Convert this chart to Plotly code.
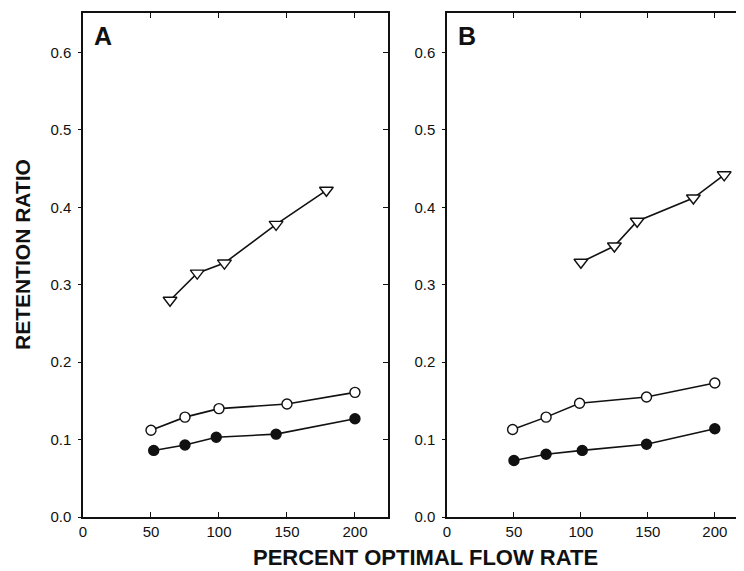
import plotly.graph_objects as go

# Panel A data
flow_A_tri = [64, 84, 104, 142, 179]
ret_A_tri = [0.280, 0.315, 0.328, 0.378, 0.422]
flow_A_open = [50, 75, 100, 150, 200]
ret_A_open = [0.112, 0.129, 0.140, 0.146, 0.161]
flow_A_fill = [52, 75, 98, 142, 200]
ret_A_fill = [0.086, 0.093, 0.103, 0.107, 0.127]

# Panel B data
flow_B_tri = [100, 125, 142, 184, 207]
ret_B_tri = [0.329, 0.350, 0.382, 0.412, 0.442]
flow_B_open = [49, 74, 99, 149, 200]
ret_B_open = [0.113, 0.129, 0.147, 0.155, 0.173]
flow_B_fill = [50, 74, 101, 149, 200]
ret_B_fill = [0.073, 0.081, 0.086, 0.094, 0.114]

x_ticks = [0, 50, 100, 150, 200]
y_ticks = [0.0, 0.1, 0.2, 0.3, 0.4, 0.5, 0.6]
y_tick_text = ["0.0", "0.1", "0.2", "0.3", "0.4", "0.5", "0.6"]
panel_labels = ["A", "B"]
x_title = "PERCENT OPTIMAL FLOW RATE"
y_title = "RETENTION RATIO"

# the page body has an 8px margin, so the figure is drawn 8px in from the corner
OFF = 8
W, H = 744 - OFF, 571 - OFF
INK = "#111111"
FONT = "Liberation Sans, Arial, sans-serif"

def px_x(p):
    return (p - OFF) / W

def px_y(p):
    return 1 - (p - OFF) / H

fig = go.Figure()

def add_series(xs, ys, xa, ya, symbol, fill):
    fig.add_trace(go.Scatter(
        x=xs, y=ys, xaxis=xa, yaxis=ya, mode="lines+markers",
        line=dict(color=INK, width=1.6),
        marker=dict(symbol=symbol, size=12 if "triangle" in symbol else 10,
                    color=INK if fill else "white",
                    line=dict(color=INK, width=1.4)),
        showlegend=False, hoverinfo="skip"))

add_series(flow_A_tri, ret_A_tri, "x", "y", "triangle-down", False)
add_series(flow_A_open, ret_A_open, "x", "y", "circle", False)
add_series(flow_A_fill, ret_A_fill, "x", "y", "circle", True)
add_series(flow_B_tri, ret_B_tri, "x2", "y2", "triangle-down", False)
add_series(flow_B_open, ret_B_open, "x2", "y2", "circle", False)
add_series(flow_B_fill, ret_B_fill, "x2", "y2", "circle", True)

# invisible traces for right-side tick axes
fig.add_trace(go.Scatter(x=[None], y=[None], xaxis="x", yaxis="y3", showlegend=False))
fig.add_trace(go.Scatter(x=[None], y=[None], xaxis="x2", yaxis="y4", showlegend=False))

y_dom = [px_y(517), px_y(13)]
xA_dom = [px_x(83), px_x(388)]
xB_dom = [px_x(447), 1.0]
y_range = [0, 0.651]

common_x = dict(
    showgrid=False, zeroline=False, showline=True, linecolor=INK, linewidth=1.5,
    mirror="ticks", ticks="inside", ticklen=5, tickwidth=1, tickcolor=INK,
    tickvals=x_ticks, ticktext=[str(v) for v in x_ticks], automargin=False,
    tickfont=dict(family=FONT, size=15, color=INK))
common_y = dict(
    showgrid=False, zeroline=False, showline=True, linecolor=INK, linewidth=1.5,
    mirror=True, ticks="outside", ticklen=3, tickwidth=1, tickcolor=INK,
    tickvals=y_ticks, ticktext=y_tick_text, range=y_range, domain=y_dom,
    automargin=False,
    tickfont=dict(family=FONT, size=15, color=INK), ticklabelstandoff=4)
right_y = dict(
    showgrid=False, zeroline=False, showline=False, ticks="inside", ticklen=5,
    tickwidth=1, tickcolor=INK, tickvals=y_ticks[1:], showticklabels=False,
    range=y_range, side="right", automargin=False)

fig.update_layout(
    width=W, height=H, margin=dict(l=0, r=0, t=0, b=0, autoexpand=False),
    paper_bgcolor="white", plot_bgcolor="white",
    xaxis=dict(common_x, domain=xA_dom, range=[0, 224.3], anchor="y"),
    yaxis=dict(common_y, anchor="x"),
    xaxis2=dict(common_x, domain=xB_dom, range=[0, 221.8], anchor="y2"),
    yaxis2=dict(common_y, anchor="x2"),
    yaxis3=dict(right_y, overlaying="y", anchor="x"),
    yaxis4=dict(right_y, overlaying="y2", anchor="x2"),
)

# panel labels
for lab, xr in zip(panel_labels, ["x domain", "x2 domain"]):
    fig.add_annotation(text="<b>%s</b>" % lab, xref=xr, yref="paper",
                       x=0.03, y=px_y(36), xanchor="left", yanchor="middle",
                       showarrow=False, font=dict(family=FONT, size=25, color=INK))

fig.add_annotation(text="<b>%s</b>" % x_title, xref="paper", yref="paper",
                   x=px_x(425), y=0, xanchor="center", yanchor="bottom",
                   borderpad=0, showarrow=False,
                   font=dict(family=FONT, size=22, color=INK))
fig.add_annotation(text="<b>%s</b>" % y_title, xref="paper", yref="paper",
                   x=px_x(22), y=px_y(255), xanchor="center", yanchor="middle",
                   textangle=-90, showarrow=False,
                   font=dict(family=FONT, size=21, color=INK))

fig.write_html("out.html")
